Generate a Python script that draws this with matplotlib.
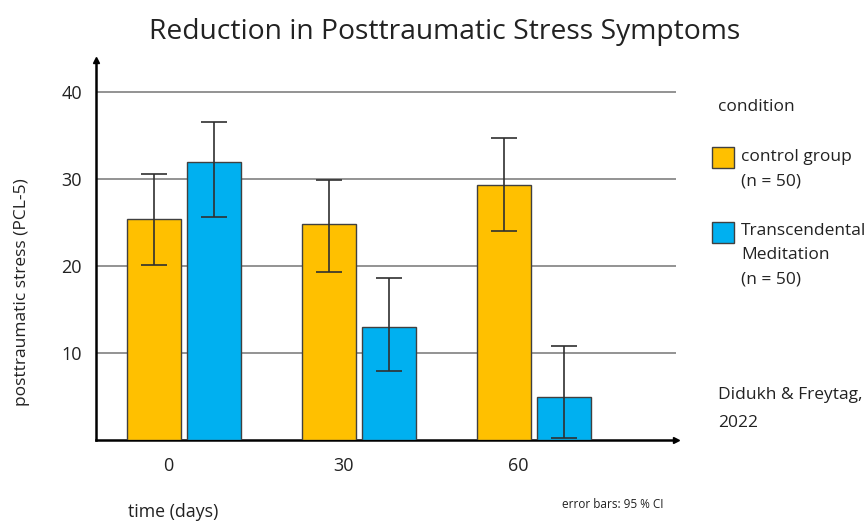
import matplotlib
matplotlib.use("Agg")
import matplotlib.pyplot as plt
import numpy as np
from matplotlib.patches import Rectangle

plt.rcParams['font.family'] = ['Open Sans', 'DejaVu Sans']

days = ["0", "30", "60"]
control_mean = [25.4, 24.8, 29.3]
control_lo = [20.1, 19.3, 24.0]
control_hi = [30.6, 29.9, 34.7]
tm_mean = [32.0, 13.0, 4.9]
tm_lo = [25.7, 7.9, 0.2]
tm_hi = [36.6, 18.6, 10.8]

yellow = "#FFC000"
blue = "#00B0F0"
edge = "#404040"
txt = "#222222"

fig = plt.figure(figsize=(8.67, 5.24), dpi=100)
ax = fig.add_axes([96/867, 1-440/524, (676-96)/867, (440-60)/524])

x = np.arange(len(days))
w = 0.305
off = 0.172
err_c = [np.array(control_mean) - np.array(control_lo), np.array(control_hi) - np.array(control_mean)]
err_t = [np.array(tm_mean) - np.array(tm_lo), np.array(tm_hi) - np.array(tm_mean)]

ax.bar(x - off, control_mean, w, color=yellow, edgecolor=edge, linewidth=1.0, zorder=3)
ax.bar(x + off, tm_mean, w, color=blue, edgecolor=edge, linewidth=1.0, zorder=3)
ax.errorbar(x - off, control_mean, yerr=err_c, fmt='none', ecolor='#303030', elinewidth=1.2, capsize=9.5, capthick=1.2, zorder=4)
ax.errorbar(x + off, tm_mean, yerr=err_t, fmt='none', ecolor='#303030', elinewidth=1.2, capsize=9.5, capthick=1.2, zorder=4)

ax.set_xlim(-0.503, 2.811)
ax.set_ylim(0, 43.7)
for g in [10, 20, 30, 40]:
    ax.axhline(g, color='#808080', linewidth=1.2, zorder=1)

ax.set_yticks([10, 20, 30, 40])
ax.set_yticklabels(["10", "20", "30", "40"], fontsize=13, color=txt)
ax.set_xticks(x - 0.09)
ax.set_xticklabels(days, fontsize=13, color=txt)
ax.tick_params(axis='both', length=0)
ax.tick_params(axis='y', pad=10)
ax.tick_params(axis='x', pad=12)

for s in ['top', 'right']:
    ax.spines[s].set_visible(False)
ax.spines['left'].set_linewidth(1.8)
ax.spines['bottom'].set_linewidth(1.8)
ax.spines['left'].set_color('black')
ax.spines['bottom'].set_color('black')
ax.plot(1, 0, '>k', transform=ax.transAxes, clip_on=False, markersize=4)
ax.plot(0, 1, '^k', transform=ax.transAxes, clip_on=False, markersize=4)

fig.text(445/867, 1-32/524, "Reduction in Posttraumatic Stress Symptoms", ha='center', va='center', fontsize=20.3, color=txt)
fig.text(22/867, 1-292/524, "posttraumatic stress (PCL-5)", rotation=90, ha='center', va='center', fontsize=12.5, color=txt)
fig.text(128/867, 1-512/524, "time (days)", ha='left', va='center', fontsize=12.8, color=txt)
fig.text(562/867, 1-505/524, "error bars: 95 % CI", ha='left', va='center', fontsize=8.5, color=txt)

fig.text(718/867, 1-107/524, "condition", ha='left', va='center', fontsize=12.5, color=txt)
fig.patches.append(Rectangle((712/867, 1-168/524), 22/867, 21/524, transform=fig.transFigure, facecolor=yellow, edgecolor=edge, linewidth=1.0))
fig.patches.append(Rectangle((712/867, 1-243/524), 22/867, 21/524, transform=fig.transFigure, facecolor=blue, edgecolor=edge, linewidth=1.0))
for label, yy in [("control group", 157), ("(n = 50)", 181), ("Transcendental", 231), ("Meditation", 255), ("(n = 50)", 279)]:
    fig.text(741/867, 1-yy/524, label, ha='left', va='center', fontsize=12.5, color=txt)
fig.text(718/867, 1-395/524, "Didukh & Freytag,", ha='left', va='center', fontsize=12.5, color=txt)
fig.text(718/867, 1-423/524, "2022", ha='left', va='center', fontsize=12.5, color=txt)

fig.savefig("out.png", dpi=100)
